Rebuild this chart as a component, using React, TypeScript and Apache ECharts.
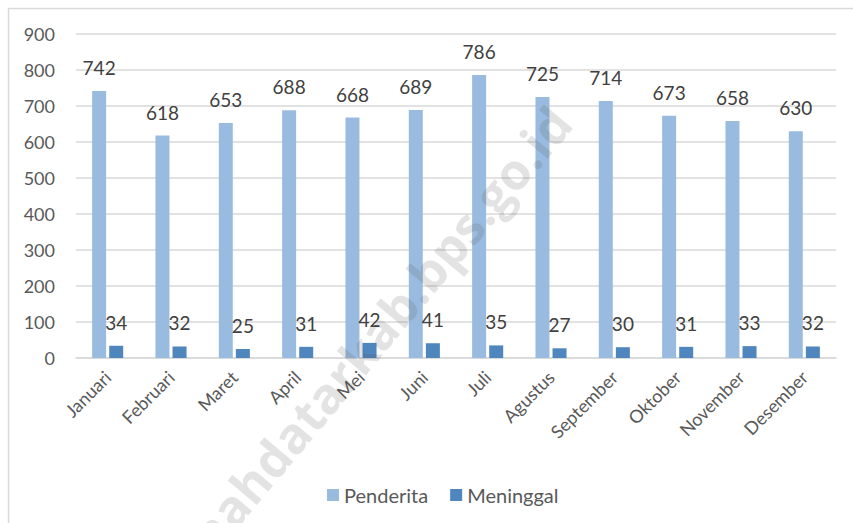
import React, { useEffect, useRef } from "react";
import * as echarts from "echarts";

const months = [
  "Januari", "Februari", "Maret", "April", "Mei", "Juni",
  "Juli", "Agustus", "September", "Oktober", "November", "Desember",
];
const penderita = [742, 618, 653, 688, 668, 689, 786, 725, 714, 673, 658, 630];
const meninggal = [34, 32, 25, 31, 42, 41, 35, 27, 30, 31, 33, 32];
const seriesNames = ["Penderita", "Meninggal"];
const watermark = "tanahdatarkab.bps.go.id";

const FONT = "Lato, 'Open Sans', sans-serif";

export default function App() {
  const ref = useRef<HTMLDivElement>(null);
  useEffect(() => {
    if (!ref.current) return;
    const chart = echarts.init(ref.current, undefined, { renderer: "svg" });
    const labelStyle = {
      show: true,
      position: "top" as const,
      distance: 14,
      fontSize: 19,
      color: "#404040",
      fontFamily: FONT,
    };
    chart.setOption({
      animation: false,
      backgroundColor: "#ffffff",
      textStyle: { fontFamily: FONT },
      grid: { left: 76, right: 17, top: 34, bottom: 165 },
      legend: {
        left: 322,
        top: 480,
        itemWidth: 12,
        itemHeight: 12,
        itemGap: 22,
        icon: "rect",
        textStyle: { fontSize: 20, color: "#595959", fontFamily: FONT },
        data: seriesNames,
      },
      xAxis: {
        type: "category",
        data: months,
        axisLine: { lineStyle: { color: "#d9d9d9", width: 1.5 } },
        axisTick: { show: false },
        axisLabel: {
          rotate: 45,
          margin: 16,
          fontSize: 18,
          color: "#595959",
          fontFamily: FONT,
          interval: 0,
        },
      },
      yAxis: {
        type: "value",
        min: 0,
        max: 900,
        interval: 100,
        axisLine: { show: false },
        axisTick: { show: false },
        splitLine: { lineStyle: { color: "#d9d9d9", width: 1.5 } },
        axisLabel: {
          margin: 21,
          fontSize: 18,
          color: "#595959",
          fontFamily: FONT,
        },
      },
      series: [
        {
          name: seriesNames[0],
          type: "bar",
          data: penderita,
          barWidth: 14,
          barGap: "22%",
          itemStyle: { color: "#9abbe0" },
          label: labelStyle,
        },
        {
          name: seriesNames[1],
          type: "bar",
          data: meninggal,
          barWidth: 14,
          itemStyle: { color: "#4f86bd" },
          label: labelStyle,
        },
      ],
      graphic: [
        {
          type: "rect",
          shape: { x: 8.5, y: 8.5, width: 900, height: 600 },
          style: { fill: "none", stroke: "#d9d9d9", lineWidth: 1.5 },
          silent: true,
          z: 100,
        },
        {
          type: "text",
          x: 185,
          y: 600,
          rotation: (50 * Math.PI) / 180,
          style: {
            text: watermark,
            fontSize: 50,
            fontWeight: "bold",
            fontFamily: "'Open Sans', sans-serif",
            fill: "rgba(80,80,80,0.16)",
            textVerticalAlign: "bottom",
          },
          silent: true,
          z: 100,
        },
      ],
    });
    return () => chart.dispose();
  }, []);
  return (
    <div
      ref={ref}
      style={{ position: "fixed", left: 0, top: 0, width: 853, height: 523 }}
    />
  );
}
